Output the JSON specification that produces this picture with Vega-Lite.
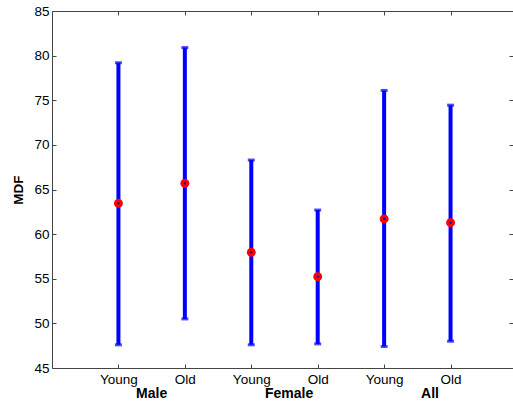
{
  "$schema": "https://vega.github.io/schema/vega-lite/v6.json",
  "width": 461,
  "height": 357,
  "autosize": "none",
  "padding": {"left": 52, "top": 11, "right": 0, "bottom": 37},
  "background": "white",
  "config": {
    "view": {"stroke": null},
    "font": "Liberation Sans",
    "axis": {
      "grid": false,
      "domainColor": "#444444",
      "tickColor": "#444444",
      "labelColor": "#000000",
      "labelFont": "Liberation Sans",
      "labelFontSize": 13.5,
      "titleFont": "Liberation Sans",
      "titleColor": "#000000"
    }
  },
  "datasets": {
    "stats": [
      {"group": "Male", "age": "Young", "pos": 1, "mean": 63.45, "lo": 47.6, "hi": 79.2},
      {"group": "Male", "age": "Old", "pos": 2, "mean": 65.69, "lo": 50.5, "hi": 80.9},
      {"group": "Female", "age": "Young", "pos": 3, "mean": 57.96, "lo": 47.6, "hi": 68.3},
      {"group": "Female", "age": "Old", "pos": 4, "mean": 55.23, "lo": 47.7, "hi": 62.7},
      {"group": "All", "age": "Young", "pos": 5, "mean": 61.7, "lo": 47.4, "hi": 76.1},
      {"group": "All", "age": "Old", "pos": 6, "mean": 61.28, "lo": 48.0, "hi": 74.45}
    ],
    "groups": [
      {"label": "Male", "gx": 1.5},
      {"label": "Female", "gx": 3.57},
      {"label": "All", "gx": 5.69}
    ]
  },
  "layer": [
    {
      "data": {"name": "stats"},
      "mark": {"type": "rule", "color": "#0000FF", "strokeWidth": 4},
      "encoding": {
        "x": {
          "field": "pos", "type": "quantitative",
          "scale": {"domain": [0, 6.94], "nice": false, "zero": false},
          "axis": {
            "orient": "bottom", "title": null, "values": [1, 2, 3, 4, 5, 6],
            "labelExpr": "datum.value % 2 == 1 ? 'Young' : 'Old'",
            "tickSize": -4, "labelPadding": 8, "labelFlush": false, "labelOverlap": false
          }
        },
        "y": {
          "field": "lo", "type": "quantitative",
          "scale": {"domain": [45, 85], "nice": false, "zero": false},
          "axis": {
            "orient": "left", "title": "MDF", "values": [45, 50, 55, 60, 65, 70, 75, 80, 85],
            "tickSize": -4, "labelPadding": 7, "labelFlush": false,
            "titleFontWeight": "bold", "titleFontSize": 13.5, "titlePadding": 8
          }
        },
        "y2": {"field": "hi"}
      }
    },
    {
      "data": {"name": "stats"},
      "mark": {"type": "tick", "orient": "horizontal", "color": "#0000FF", "size": 7, "thickness": 3},
      "encoding": {
        "x": {"field": "pos", "type": "quantitative", "axis": null},
        "y": {"field": "lo", "type": "quantitative", "axis": null}
      }
    },
    {
      "data": {"name": "stats"},
      "mark": {"type": "tick", "orient": "horizontal", "color": "#0000FF", "size": 7, "thickness": 3},
      "encoding": {
        "x": {"field": "pos", "type": "quantitative", "axis": null},
        "y": {"field": "hi", "type": "quantitative", "axis": null}
      }
    },
    {
      "data": {"name": "stats"},
      "mark": {"type": "point", "shape": "circle", "filled": true, "color": "#FF0000", "size": 80, "opacity": 1},
      "encoding": {
        "x": {
          "field": "pos", "type": "quantitative",
          "axis": {"orient": "top", "title": null, "labels": false, "values": [1, 2, 3, 4, 5, 6], "tickSize": -4}
        },
        "y": {
          "field": "mean", "type": "quantitative",
          "axis": {"orient": "right", "title": null, "labels": false, "values": [45, 50, 55, 60, 65, 70, 75, 80, 85], "tickSize": -4}
        }
      }
    },
    {
      "data": {"name": "stats"},
      "mark": {"type": "point", "shape": "square", "filled": true, "color": "#0000AA", "size": 4, "opacity": 1},
      "encoding": {
        "x": {"field": "pos", "type": "quantitative", "axis": null},
        "y": {"field": "mean", "type": "quantitative", "axis": null}
      }
    },
    {
      "data": {"name": "groups"},
      "mark": {"type": "text", "font": "Liberation Sans", "fontSize": 14, "fontWeight": "bold", "color": "#000000", "baseline": "middle", "align": "center"},
      "encoding": {
        "x": {"field": "gx", "type": "quantitative", "axis": null},
        "y": {"datum": 42.1, "type": "quantitative", "axis": null},
        "text": {"field": "label"}
      }
    }
  ],
  "resolve": {"axis": {"x": "independent", "y": "independent"}}
}
